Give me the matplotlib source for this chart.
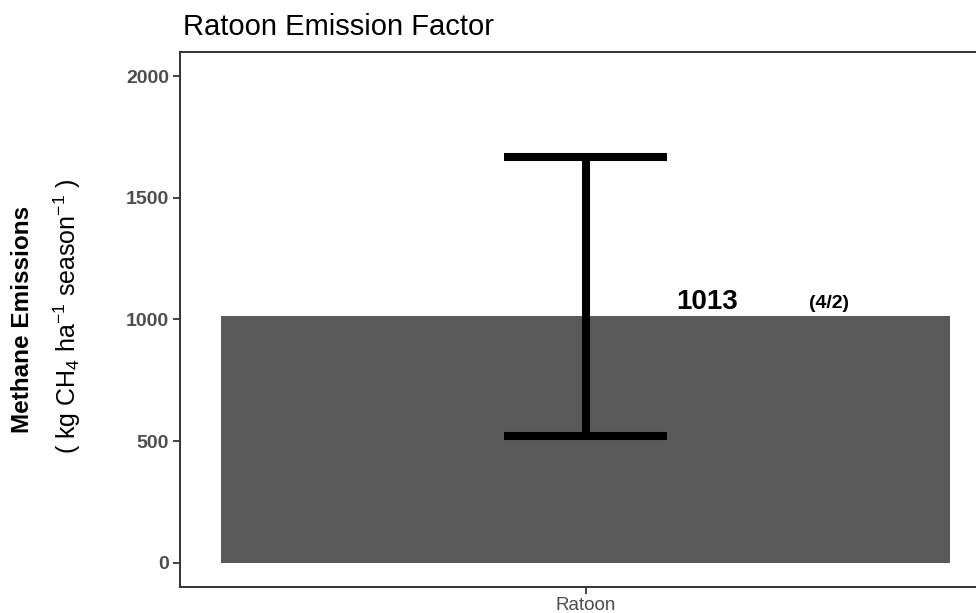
import matplotlib
matplotlib.use("Agg")
import matplotlib.pyplot as plt

categories = ["Ratoon"]
means = [1013]
lower = [520]
upper = [1668]
count_labels = ["(4/2)"]
yticks = [0, 500, 1000, 1500, 2000]

plt.rcParams.update(
    {
        "font.family": ["Liberation Sans", "DejaVu Sans"],
        "mathtext.fontset": "custom",
        "mathtext.rm": "Liberation Sans",
        "mathtext.it": "Liberation Sans:italic",
        "mathtext.bf": "Liberation Sans:bold",
    }
)

W, H = 976, 613
fig = plt.figure(figsize=(W / 100, H / 100), dpi=100)
ax = fig.add_axes([180 / W, 26 / H, (991 - 180) / W, (587 - 52) / H])

x = list(range(1, len(categories) + 1))
ax.bar(x, means, width=0.9, color="#595959", zorder=1)
for xi, lo, hi in zip(x, lower, upper):
    ax.vlines(xi, lo, hi, color="black", linewidth=5.8, zorder=3)
    ax.hlines([lo, hi], xi - 0.1, xi + 0.1, color="black", linewidth=5.8,
              capstyle="butt", zorder=3)
for xi, m, lab in zip(x, means, count_labels):
    ax.annotate(f"{m}", (xi + 0.15, m), xytext=(0, 5), textcoords="offset points",
                ha="center", va="baseline", fontsize=20, fontweight="bold")
    ax.annotate(lab, (xi + 0.3, m), xytext=(0, 6), textcoords="offset points",
                ha="center", va="baseline", fontsize=14, fontweight="bold")

ax.set_xlim(0.5, 1.5)
ax.set_ylim(-100, 2100)
ax.set_xticks(x, categories)
ax.set_yticks(yticks)
ax.tick_params(axis="both", length=5, width=1.3, color="#333333",
               labelsize=14, labelcolor="#4D4D4D", pad=3)
ax.tick_params(axis="x", labelsize=13.5, pad=2)
for lab in ax.get_yticklabels():
    lab.set_fontweight("bold")
for side in ["left", "bottom", "top", "right"]:
    ax.spines[side].set_linewidth(1.4)
    ax.spines[side].set_color("#333333")

fig.text(183 / W, 1 - 27 / H, "Ratoon Emission Factor", fontsize=21,
         ha="left", va="center")
fig.text(23 / W, 1 - 319 / H, "Methane Emissions", fontsize=17.5,
         fontweight="bold", rotation=90, ha="center", va="center")
fig.text(67 / W, 1 - 316 / H, r"( kg CH$_4$ ha$^{-1}$ season$^{-1}$ )",
         fontsize=18, rotation=90, ha="center", va="center")

fig.savefig("out.png", dpi=100)
